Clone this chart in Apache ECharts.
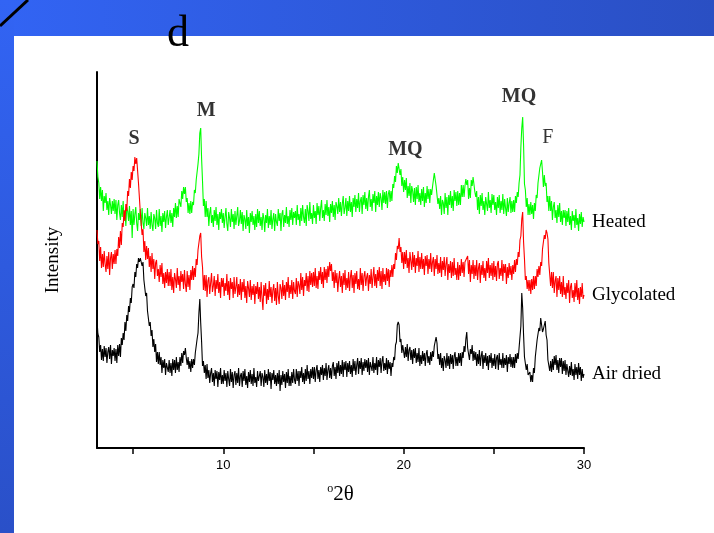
<!DOCTYPE html>
<html>
<head>
<meta charset="utf-8">
<script src="https://cdn.jsdelivr.net/npm/echarts@6/dist/echarts.min.js"></script>
<style>
  html, body { margin: 0; padding: 0; background: #fff; }
  #chart { width: 714px; height: 533px; }
</style>
</head>
<body>
<div id="chart"></div>
<script>
// 2θ sampling: 3.00 .. 30.00 step 0.05
const thetaStart = 3
const thetaStep = 0.05

// Heated (green), intensity, one row per degree
const heated = [
  287, 271, 265, 249, 261, 247, 258, 237, 252, 245, 255, 238, 247, 233, 250, 243, 234, 247, 237, 249,
  234, 248, 228, 243, 248, 235, 228, 243, 231, 247, 227, 237, 222, 241, 237, 227, 242, 223, 237, 210,
  239, 223, 234, 241, 225, 217, 235, 228, 239, 222, 240, 225, 219, 235, 230, 222, 240, 223, 232, 219,
  236, 223, 217, 234, 230, 219, 238, 225, 221, 239, 222, 232, 216, 235, 226, 237, 220, 231, 238, 223,
  221, 238, 225, 235, 221, 240, 231, 245, 230, 242, 231, 249, 245, 241, 257, 249, 261, 254, 261, 246,
  250, 235, 245, 234, 247, 235, 246, 243, 258, 255, 268, 267, 284, 294, 315, 320, 289, 267, 242, 249,
  231, 247, 231, 240, 222, 235, 241, 225, 233, 221, 238, 227, 241, 223, 234, 218, 236, 229, 239, 225,
  235, 220, 231, 240, 224, 217, 236, 230, 221, 239, 226, 234, 219, 237, 223, 232, 241, 222, 227, 238,
  224, 236, 217, 233, 229, 219, 238, 222, 231, 215, 235, 226, 237, 223, 232, 218, 234, 221, 239, 225,
  237, 222, 231, 218, 235, 230, 216, 233, 225, 239, 220, 232, 223, 238, 219, 229, 235, 217, 234, 226,
  222, 239, 227, 235, 217, 234, 238, 221, 233, 225, 241, 224, 232, 221, 238, 228, 240, 223, 236, 230,
  237, 223, 243, 228, 234, 222, 240, 227, 243, 231, 225, 239, 222, 243, 237, 227, 246, 229, 235, 224,
  243, 230, 237, 224, 245, 233, 242, 227, 240, 248, 230, 238, 227, 244, 233, 248, 232, 241, 226, 244,
  235, 247, 231, 243, 228, 246, 242, 234, 250, 236, 246, 232, 244, 252, 234, 240, 250, 232, 247, 237,
  252, 236, 246, 231, 250, 241, 253, 236, 249, 240, 255, 236, 247, 251, 234, 253, 243, 256, 239, 250,
  237, 251, 258, 241, 249, 237, 254, 245, 257, 236, 252, 243, 256, 241, 255, 250, 238, 258, 245, 256,
  244, 257, 240, 254, 258, 246, 257, 247, 264, 260, 272, 266, 282, 275, 285, 284, 273, 279, 262, 271,
  256, 268, 258, 270, 250, 262, 252, 265, 245, 262, 257, 246, 260, 243, 261, 249, 263, 246, 255, 243,
  259, 247, 261, 241, 255, 245, 262, 249, 259, 245, 259, 253, 261, 259, 275, 277, 262, 262, 244, 250,
  239, 252, 233, 248, 245, 234, 255, 240, 251, 233, 253, 243, 257, 240, 252, 237, 258, 247, 256, 242,
  257, 243, 255, 243, 263, 251, 263, 251, 262, 269, 263, 268, 249, 260, 250, 268, 262, 271, 270, 256,
  251, 257, 238, 251, 234, 253, 242, 255, 238, 247, 233, 251, 249, 237, 256, 240, 248, 235, 254, 243,
  253, 238, 246, 233, 251, 240, 253, 235, 247, 238, 254, 234, 249, 240, 232, 250, 236, 245, 251, 235,
  247, 236, 248, 236, 252, 245, 256, 251, 265, 273, 301, 320, 331, 303, 264, 258, 241, 250, 233, 244,
  233, 246, 234, 243, 229, 245, 237, 253, 250, 265, 266, 280, 282, 288, 276, 261, 273, 262, 265, 246,
  252, 237, 252, 237, 247, 228, 241, 246, 230, 238, 225, 243, 231, 245, 226, 237, 223, 238, 230, 238,
  222, 237, 226, 240, 223, 232, 218, 237, 227, 233, 220, 239, 223, 230, 217, 234, 224, 236, 221, 231,
  226
]

// Glycolated (red)
const glycolated = [
  218, 204, 207, 187, 201, 180, 194, 181, 197, 184, 176, 192, 179, 196, 173, 190, 196, 179, 194, 184,
  198, 184, 199, 192, 211, 200, 217, 203, 225, 221, 238, 227, 244, 237, 257, 252, 269, 260, 276, 268,
  282, 277, 291, 284, 290, 288, 265, 266, 236, 237, 213, 219, 196, 207, 188, 202, 189, 200, 181, 192,
  176, 195, 179, 189, 169, 185, 188, 172, 179, 166, 183, 171, 185, 164, 175, 160, 176, 165, 179, 162,
  176, 162, 179, 158, 171, 155, 175, 169, 160, 180, 163, 172, 157, 177, 166, 174, 159, 178, 164, 156,
  177, 161, 173, 158, 178, 168, 182, 168, 180, 171, 189, 183, 198, 199, 212, 215, 191, 181, 158, 173,
  157, 173, 151, 167, 171, 154, 165, 175, 156, 162, 172, 152, 168, 159, 174, 155, 166, 150, 170, 161,
  170, 152, 165, 157, 174, 153, 167, 148, 170, 159, 166, 150, 171, 154, 161, 171, 151, 164, 153, 169,
  148, 166, 156, 169, 150, 162, 145, 167, 160, 151, 168, 148, 162, 153, 164, 144, 162, 154, 166, 149,
  161, 146, 166, 150, 138, 163, 152, 165, 144, 159, 148, 167, 151, 161, 145, 158, 164, 147, 160, 143,
  166, 152, 144, 164, 160, 149, 168, 152, 163, 148, 166, 156, 171, 150, 163, 154, 168, 149, 166, 157,
  154, 170, 151, 167, 163, 154, 175, 158, 171, 152, 168, 162, 175, 157, 172, 156, 177, 163, 175, 161,
  176, 162, 180, 160, 172, 159, 177, 168, 181, 164, 176, 160, 181, 168, 179, 165, 182, 171, 186, 177,
  184, 167, 176, 160, 178, 165, 175, 156, 169, 177, 161, 172, 155, 175, 163, 178, 158, 170, 160, 176,
  157, 171, 178, 160, 173, 155, 175, 164, 177, 159, 169, 158, 180, 163, 175, 157, 172, 177, 162, 171,
  175, 157, 173, 164, 179, 160, 171, 181, 162, 174, 160, 178, 167, 181, 162, 177, 159, 180, 166, 174,
  163, 180, 167, 179, 161, 178, 171, 183, 171, 184, 179, 195, 188, 202, 199, 210, 196, 201, 185, 196,
  179, 196, 184, 198, 180, 190, 175, 196, 187, 178, 196, 181, 193, 175, 190, 182, 197, 176, 191, 179,
  195, 179, 189, 173, 192, 182, 193, 174, 189, 179, 195, 176, 186, 191, 172, 189, 179, 193, 174, 185,
  175, 191, 171, 187, 178, 191, 172, 184, 191, 168, 184, 175, 187, 170, 186, 172, 190, 173, 180, 168,
  186, 168, 183, 172, 189, 175, 186, 171, 186, 188, 188, 192, 174, 188, 166, 183, 174, 188, 169, 183,
  172, 188, 168, 180, 185, 165, 183, 173, 187, 170, 180, 167, 187, 175, 190, 170, 183, 172, 185, 168,
  187, 171, 182, 167, 184, 187, 169, 180, 172, 188, 167, 184, 175, 184, 164, 181, 170, 185, 173, 182,
  168, 183, 174, 188, 176, 189, 183, 196, 191, 208, 212, 229, 236, 206, 189, 168, 172, 159, 168, 157,
  168, 154, 169, 158, 172, 159, 172, 162, 179, 171, 182, 173, 186, 182, 199, 200, 213, 209, 218, 215,
  209, 185, 184, 162, 176, 160, 176, 155, 167, 172, 151, 170, 158, 172, 154, 166, 151, 172, 153, 161,
  149, 165, 155, 168, 145, 161, 165, 150, 158, 146, 165, 151, 168, 148, 160, 144, 161, 151, 165, 149,
  153
]

// Air dried (black)
const airDried = [
  128, 114, 111, 96, 103, 88, 99, 87, 102, 91, 100, 85, 96, 101, 89, 103, 84, 98, 92, 100,
  87, 99, 85, 103, 92, 104, 91, 110, 103, 115, 108, 126, 117, 133, 127, 142, 136, 150, 145, 161,
  164, 160, 176, 171, 184, 180, 190, 186, 190, 192, 182, 186, 168, 170, 152, 155, 137, 139, 122, 126,
  112, 118, 101, 109, 96, 104, 86, 96, 84, 96, 83, 91, 75, 88, 80, 89, 73, 85, 87, 76,
  88, 75, 85, 72, 89, 78, 88, 75, 91, 78, 86, 76, 91, 82, 95, 85, 97, 93, 100, 90,
  83, 91, 79, 87, 76, 89, 80, 89, 83, 95, 94, 109, 115, 135, 149, 125, 106, 82, 87, 75,
  83, 69, 84, 70, 78, 65, 75, 80, 66, 75, 62, 78, 69, 77, 61, 76, 68, 80, 64, 73,
  64, 78, 67, 75, 61, 77, 69, 62, 79, 66, 76, 60, 73, 77, 63, 75, 65, 80, 62, 72,
  75, 61, 77, 67, 79, 63, 72, 60, 76, 66, 78, 64, 74, 62, 80, 65, 71, 61, 77, 67,
  66, 77, 62, 75, 71, 61, 78, 65, 74, 63, 79, 67, 76, 59, 75, 68, 78, 64, 73, 62,
  75, 64, 78, 57, 73, 63, 77, 66, 74, 60, 76, 65, 79, 62, 72, 62, 76, 65, 79, 68,
  64, 79, 67, 77, 62, 77, 70, 81, 66, 75, 64, 79, 67, 83, 69, 77, 64, 79, 70, 81,
  69, 81, 66, 78, 83, 69, 78, 66, 81, 73, 83, 68, 80, 72, 85, 68, 78, 83, 70, 80,
  69, 82, 86, 72, 81, 69, 85, 75, 87, 72, 83, 74, 88, 71, 86, 78, 87, 71, 85, 76,
  87, 74, 83, 71, 89, 77, 87, 73, 83, 90, 74, 87, 79, 90, 73, 86, 77, 89, 80, 88,
  76, 90, 73, 86, 88, 77, 91, 75, 85, 78, 91, 73, 88, 81, 90, 75, 87, 92, 77, 85,
  78, 90, 74, 88, 79, 86, 72, 85, 81, 91, 88, 103, 106, 123, 126, 123, 106, 109, 95, 103,
  104, 90, 101, 91, 104, 87, 98, 101, 88, 98, 84, 99, 90, 100, 85, 95, 86, 100, 82, 93,
  84, 97, 87, 95, 82, 94, 98, 85, 92, 83, 96, 87, 97, 91, 102, 102, 111, 105, 89, 94,
  83, 95, 80, 90, 77, 92, 88, 80, 95, 82, 92, 79, 94, 84, 93, 79, 92, 96, 82, 91,
  82, 95, 85, 95, 82, 96, 90, 102, 96, 109, 116, 100, 102, 88, 99, 94, 103, 87, 97, 88,
  96, 82, 94, 84, 98, 82, 92, 97, 79, 93, 85, 95, 82, 92, 78, 93, 85, 95, 80, 90,
  82, 94, 79, 90, 93, 78, 95, 83, 89, 80, 95, 80, 90, 83, 93, 76, 91, 84, 94, 81,
  91, 80, 91, 80, 94, 85, 95, 89, 100, 101, 122, 155, 140, 113, 91, 93, 78, 84, 73, 75,
  76, 66, 73, 66, 80, 75, 91, 89, 108, 106, 120, 117, 130, 128, 116, 119, 117, 127, 113, 108,
  88, 89, 77, 87, 76, 89, 78, 92, 83, 93, 78, 88, 75, 90, 81, 90, 74, 87, 77, 88,
  73, 84, 85, 71, 82, 73, 86, 72, 79, 68, 84, 73, 81, 69, 85, 73, 81, 67, 79, 70,
  74
]

const xTickValues = [5, 10, 15, 20, 25, 30]
const xLabelValues = [10, 20, 30]

// peak annotations
const peakNames = ['S', 'M', 'MQ', 'MQ', 'F']
const peakAngles = [5.05, 9.05, 20.1, 26.4, 28.0]
const peakHeights = [309, 337, 298, 351, 310]
const peakBold = [true, true, true, true, false]

const toPairs = arr => arr.map((v, i) => [+(thetaStart + i * thetaStep).toFixed(2), v])

const chart = echarts.init(document.getElementById('chart'))

const serif = 'Liberation Serif'

const lineSeries = (name, color, values) => ({
  name,
  type: 'line',
  data: toPairs(values),
  showSymbol: false,
  symbol: 'none',
  lineStyle: { color, width: 1.1 },
  itemStyle: { color },
  endLabel: {
    show: true,
    formatter: '{a}',
    distance: 8,
    color: '#000',
    fontFamily: serif,
    fontSize: 19
  }
})

const option = {
  animation: false,
  backgroundColor: '#fff',
  grid: { left: 97, right: 130, top: 72, bottom: 85, containLabel: false },
  graphic: [
    {
      type: 'rect',
      z: -10,
      shape: { x: 0, y: 0, width: 714, height: 36 },
      style: {
        fill: new echarts.graphic.LinearGradient(0, 0, 1, 0, [
          { offset: 0, color: '#3264f4' },
          { offset: 1, color: '#2a4fc3' }
        ])
      }
    },
    {
      type: 'rect',
      z: -10,
      shape: { x: 0, y: 0, width: 14, height: 533 },
      style: {
        fill: new echarts.graphic.LinearGradient(0, 0, 0, 1, [
          { offset: 0, color: '#3264f4' },
          { offset: 1, color: '#2a50c8' }
        ])
      }
    },
    {
      type: 'line',
      z: 10,
      shape: { x1: 0, y1: 26, x2: 28, y2: 0 },
      style: { stroke: '#000', lineWidth: 3 }
    },
    {
      type: 'text',
      z: 10,
      x: 167,
      y: 34,
      style: {
        text: 'd',
        font: '44px "Liberation Serif"',
        fill: '#000',
        verticalAlign: 'middle'
      }
    }
  ],
  xAxis: {
    type: 'value',
    min: 3,
    max: 30,
    name: '{o|o}2θ',
    nameLocation: 'middle',
    nameGap: 35,
    nameTextStyle: {
      color: '#000',
      fontFamily: serif,
      fontSize: 21,
      rich: {
        o: { fontSize: 12, fontFamily: serif, color: '#000', verticalAlign: 'top', padding: [0, 0, 10, 0] }
      }
    },
    axisLine: { lineStyle: { color: '#000', width: 2 } },
    axisTick: {
      show: true,
      customValues: xTickValues,
      length: 6,
      lineStyle: { color: '#000', width: 1.5 }
    },
    axisLabel: {
      customValues: xLabelValues,
      color: '#000',
      fontFamily: 'Liberation Sans',
      fontSize: 13,
      margin: 11
    },
    splitLine: { show: false }
  },
  yAxis: {
    type: 'value',
    min: 0,
    max: 376,
    name: 'Intensity',
    nameLocation: 'middle',
    nameGap: 34,
    nameTextStyle: { color: '#000', fontFamily: serif, fontSize: 19 },
    axisLine: { show: true, lineStyle: { color: '#000', width: 2 } },
    axisTick: { show: false },
    axisLabel: { show: false },
    splitLine: { show: false }
  },
  series: [
    lineSeries('Heated', '#00ff00', heated),
    lineSeries('Glycolated', '#ff0000', glycolated),
    lineSeries('Air dried', '#000000', airDried),
    {
      type: 'scatter',
      symbolSize: 1,
      itemStyle: { color: 'rgba(0,0,0,0)' },
      silent: true,
      data: peakNames.map((n, i) => ({
        value: [peakAngles[i], peakHeights[i], n],
        label: {
          show: true,
          position: 'inside',
          formatter: n,
          color: '#000',
          fontFamily: serif,
          fontSize: 20,
          fontWeight: peakBold[i] ? 'bold' : 'normal'
        }
      }))
    }
  ]
}

chart.setOption(option)
</script>
</body>
</html>
